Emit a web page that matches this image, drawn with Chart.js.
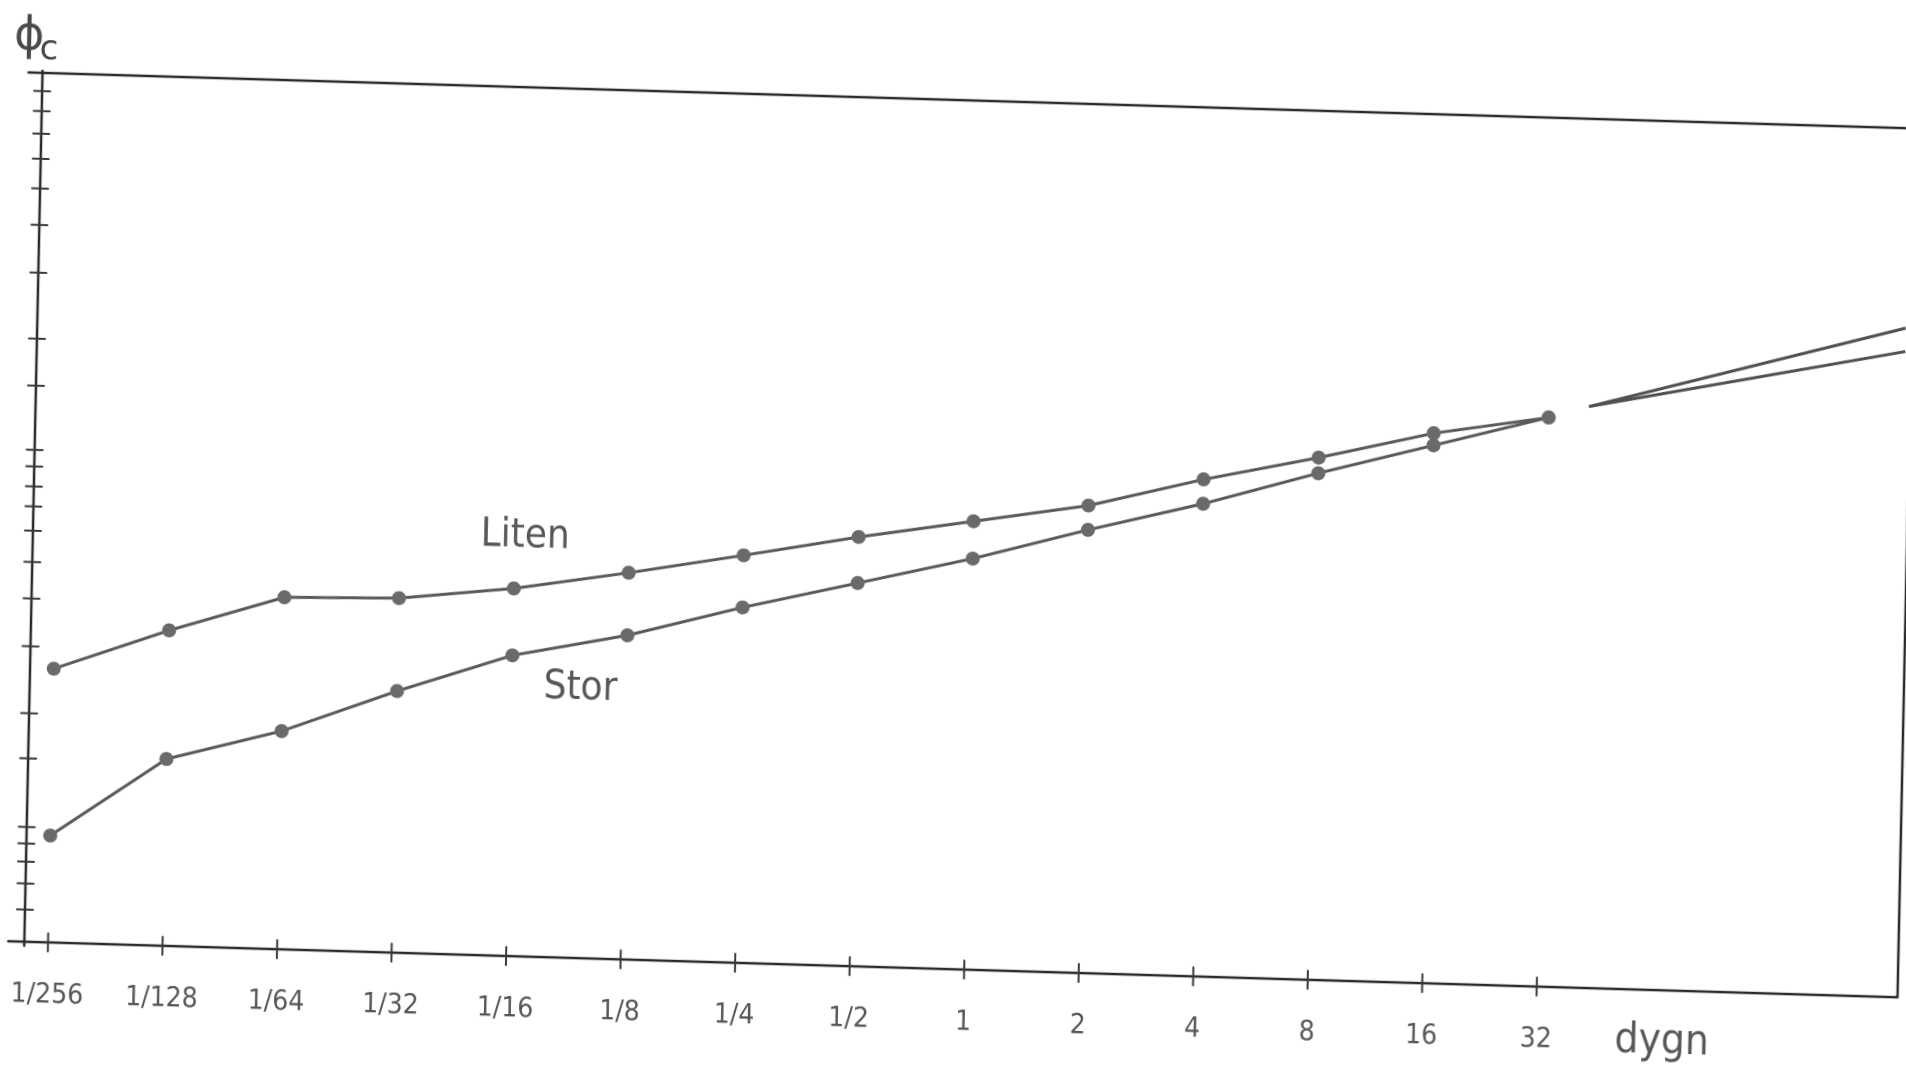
<!DOCTYPE html>
<html>
<head>
<meta charset="utf-8">
<script src="https://cdn.jsdelivr.net/npm/chart.js@4.4.1/dist/chart.umd.min.js"></script>
<style>
  html, body { margin: 0; padding: 0; background: #fff; overflow: hidden; width: 1906px; height: 1070px; }
  /* the drawing sheet sits slightly turned, like a sheet laid on a scanner */
  #sheet { position: absolute; left: -62px; top: -40px; width: 2026px; height: 1150px;
           transform: rotate(1.7deg) skewX(0.5deg); transform-origin: 50% 50%; }
</style>
</head>
<body>
<div id="sheet"><canvas id="c"></canvas></div>
<script>
// time in days (dygn), one step per doubling
const categories = ['1/256', '1/128', '1/64', '1/32', '1/16', '1/8', '1/4', '1/2', '1', '2', '4', '8', '16', '32'];

// φc for the small and the large specimen
const liten = [31.5, 36.3, 40.5, 40.8, 42.3, 44.5, 46.9, 49.4, 51.6, 53.8, 57.2, 60.1, 63.3, 65.5];
const stor  = [12.3, 21.5, 25.1, 30.1, 34.6, 37.3, 40.9, 44.1, 47.3, 51.0, 54.4, 58.3, 61.9, 65.5];

// continuation beyond 32 dygn (two strokes from a common start)
const extX     = [13.35, 16.1];
const extUpper = [66.9, 77.0];
const extLower = [66.9, 74.3];

// unlabelled marks along the φc axis
const yTickValues = [97.9, 95.6, 93.0, 90.1, 86.7, 82.5, 77.0, 69.4, 64.0, 56.6, 54.7, 52.4,
                     50.1, 47.3, 43.7, 39.5, 34.0, 26.3, 21.1, 13.2, 11.3, 9.2, 6.7, 3.7];

const LETTER = "'Liberation Sans Narrow', 'DejaVu Sans Condensed', 'Liberation Sans', sans-serif";
const INK = '#2b2b2b';
const PENCIL = '#575757';

const toPoints = (vals) => vals.map((v, i) => ({ x: i, y: v }));
const toPairs = (xs, ys) => xs.map((x, i) => ({ x: x, y: ys[i] }));

// frame, cross-shaped tick marks and hand lettering
const sheetPlugin = {
  id: 'sheet',
  beforeDatasetsDraw(chart) {
    const { ctx, chartArea: a, scales: { x, y } } = chart;
    ctx.save();
    ctx.strokeStyle = INK;
    ctx.lineCap = 'round';
    ctx.lineWidth = 2.5;
    ctx.beginPath();
    ctx.moveTo(a.left - 14, a.top);    ctx.lineTo(a.right, a.top);
    ctx.moveTo(a.right, a.top);        ctx.lineTo(a.right, a.bottom);
    ctx.moveTo(a.left - 16, a.bottom); ctx.lineTo(a.right, a.bottom);
    ctx.moveTo(a.left, a.top - 2);     ctx.lineTo(a.left, a.bottom + 4);
    ctx.stroke();

    ctx.lineWidth = 2;
    ctx.strokeStyle = '#3a3a3a';
    ctx.beginPath();
    y.ticks.forEach(t => {
      const py = y.getPixelForValue(t.value);
      ctx.moveTo(a.left - 8, py); ctx.lineTo(a.left + 8, py);
    });
    x.ticks.forEach(t => {
      const px = x.getPixelForValue(t.value);
      ctx.moveTo(px, a.bottom - 9); ctx.lineTo(px, a.bottom + 9);
    });
    ctx.stroke();
    ctx.restore();
  },
  afterDraw(chart) {
    const { ctx, chartArea: a, scales: { x, y } } = chart;
    ctx.save();
    ctx.fillStyle = '#4a4a4a';
    ctx.textAlign = 'center';
    ctx.textBaseline = 'middle';

    ctx.font = "46px 'DejaVu Sans', sans-serif";
    ctx.fillText('ϕ', a.left - 14, a.top - 35);
    ctx.font = "34px 'DejaVu Sans', sans-serif";
    ctx.fillText('c', a.left + 6, a.top - 23);

    ctx.fillStyle = PENCIL;
    ctx.font = '40px ' + LETTER;
    ctx.fillText('Liten', x.getPixelForValue(4.09), y.getPixelForValue(48.3));
    ctx.fillText('Stor', x.getPixelForValue(4.60), y.getPixelForValue(31.0));

    ctx.font = '42px ' + LETTER;
    ctx.fillText('dygn', x.getPixelForValue(14.1), a.bottom + 52);
    ctx.restore();
  }
};

const lineStyle = {
  borderColor: '#5a5a5a',
  borderWidth: 3,
  pointRadius: 7,
  pointBackgroundColor: '#6a6a6a',
  pointBorderWidth: 0,
  tension: 0,
  fill: false
};

new Chart(document.getElementById('c'), {
  type: 'line',
  data: {
    datasets: [
      Object.assign({ label: 'Liten', data: toPoints(liten) }, lineStyle),
      Object.assign({ label: 'Stor', data: toPoints(stor) }, lineStyle),
      { label: 'Stor, forts.', data: toPairs(extX, extUpper), borderColor: '#505050', borderWidth: 3,
        pointRadius: 0, tension: 0, fill: false },
      { label: 'Liten, forts.', data: toPairs(extX, extLower), borderColor: '#505050', borderWidth: 3,
        pointRadius: 0, tension: 0, fill: false }
    ]
  },
  options: {
    responsive: true,
    maintainAspectRatio: false,
    animation: false,
    devicePixelRatio: 2,
    layout: { padding: { top: 140, right: 57, left: 0, bottom: 0 } },
    plugins: { legend: { display: false }, tooltip: { enabled: false } },
    scales: {
      x: {
        type: 'linear',
        min: -0.207,
        max: 16.15,
        afterBuildTicks: s => { s.ticks = categories.map((_, i) => ({ value: i })); },
        afterFit: s => { s.height = 141; },
        ticks: {
          autoSkip: false,
          maxRotation: 0,
          padding: 36,
          color: PENCIL,
          font: { family: LETTER, size: 28 },
          callback: v => categories[v]
        },
        grid: { display: false, drawTicks: false },
        border: { display: false }
      },
      y: {
        min: 0,
        max: 100,
        afterBuildTicks: s => { s.ticks = yTickValues.map(v => ({ value: v })); },
        afterFit: s => { s.width = 95; },
        ticks: { display: false },
        grid: { display: false, drawTicks: false },
        border: { display: false }
      }
    }
  },
  plugins: [sheetPlugin]
});
</script>
</body>
</html>
